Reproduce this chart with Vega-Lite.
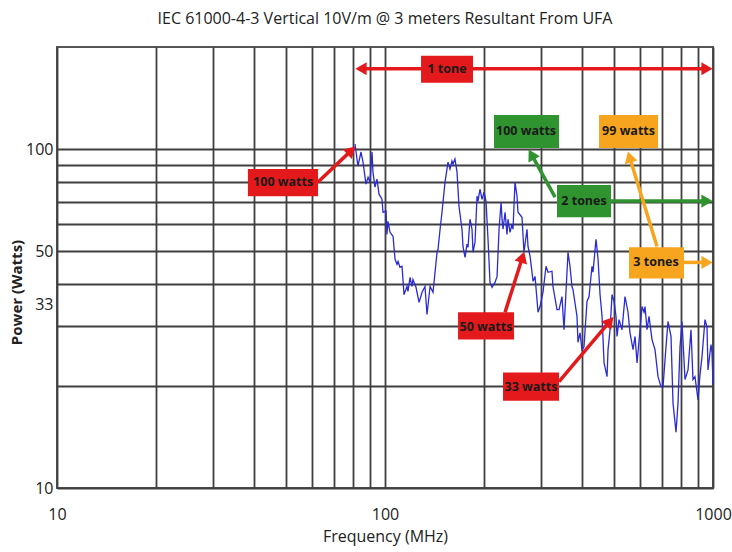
{
  "$schema": "https://vega.github.io/schema/vega-lite/v6.json",
  "autosize": "none",
  "width": 656,
  "height": 441,
  "padding": {"left": 57, "top": 47, "right": 19, "bottom": 64},
  "background": "white",
  "config": {
    "font": "Liberation Sans Narrow, Open Sans, sans-serif",
    "view": {"stroke": "#555555", "strokeWidth": 2}
  },
  "title": {
    "text": "IEC 61000-4-3 Vertical 10V/m @ 3 meters Resultant From UFA",
    "fontSize": 16,
    "fontWeight": "normal",
    "color": "#222222",
    "anchor": "middle",
    "offset": 20,
    "font": "Liberation Sans Narrow, Open Sans, sans-serif"
  },
  "datasets": {
    "curve": [
      {"f": 81.0, "p": 103.5}, {"f": 82.7, "p": 89.1}, {"f": 84.5, "p": 98.0}, {"f": 85.7, "p": 91.5},
      {"f": 87.5, "p": 78.8}, {"f": 88.8, "p": 82.6}, {"f": 90.0, "p": 79.9}, {"f": 91.3, "p": 98.0},
      {"f": 91.9, "p": 85.5}, {"f": 93.2, "p": 77.2}, {"f": 94.5, "p": 81.5}, {"f": 95.9, "p": 73.6},
      {"f": 97.9, "p": 71.1}, {"f": 98.6, "p": 65.1}, {"f": 100.7, "p": 65.6}, {"f": 101.4, "p": 56.0},
      {"f": 102.1, "p": 61.2}, {"f": 103.6, "p": 56.8}, {"f": 105.8, "p": 55.3}, {"f": 107.3, "p": 47.3},
      {"f": 108.8, "p": 45.7}, {"f": 109.6, "p": 46.6}, {"f": 111.1, "p": 44.8}, {"f": 112.7, "p": 45.1},
      {"f": 114.3, "p": 37.2}, {"f": 116.7, "p": 39.3}, {"f": 117.5, "p": 38.0}, {"f": 119.2, "p": 41.8},
      {"f": 120.9, "p": 39.3}, {"f": 121.7, "p": 41.2}, {"f": 124.3, "p": 39.1}, {"f": 127.0, "p": 35.3},
      {"f": 129.7, "p": 37.8}, {"f": 132.4, "p": 39.3}, {"f": 134.3, "p": 32.5}, {"f": 137.2, "p": 39.3},
      {"f": 140.1, "p": 37.8}, {"f": 144.1, "p": 49.6}, {"f": 145.1, "p": 50.6}, {"f": 147.2, "p": 58.0},
      {"f": 149.2, "p": 65.1}, {"f": 152.4, "p": 79.9}, {"f": 154.5, "p": 87.3}, {"f": 155.6, "p": 91.5},
      {"f": 157.8, "p": 87.3}, {"f": 160.0, "p": 92.2}, {"f": 161.2, "p": 90.3}, {"f": 163.4, "p": 93.4},
      {"f": 165.8, "p": 85.5}, {"f": 168.1, "p": 67.8}, {"f": 171.7, "p": 58.0}, {"f": 172.9, "p": 51.6},
      {"f": 175.4, "p": 47.9}, {"f": 177.8, "p": 52.4}, {"f": 179.1, "p": 51.3}, {"f": 181.6, "p": 62.1},
      {"f": 184.2, "p": 58.0}, {"f": 185.5, "p": 49.6}, {"f": 188.1, "p": 53.1}, {"f": 190.8, "p": 72.6},
      {"f": 192.1, "p": 70.2}, {"f": 194.8, "p": 76.1}, {"f": 197.6, "p": 71.1}, {"f": 200.4, "p": 74.6},
      {"f": 203.2, "p": 70.2}, {"f": 206.1, "p": 54.2}, {"f": 209.0, "p": 40.4}, {"f": 212.0, "p": 39.1},
      {"f": 216.5, "p": 40.4}, {"f": 219.6, "p": 42.1}, {"f": 222.7, "p": 58.0}, {"f": 225.9, "p": 69.7},
      {"f": 227.4, "p": 62.1}, {"f": 229.0, "p": 58.0}, {"f": 232.3, "p": 65.1}, {"f": 235.5, "p": 56.0},
      {"f": 237.1, "p": 62.1}, {"f": 240.5, "p": 56.8}, {"f": 243.9, "p": 60.0}, {"f": 245.6, "p": 58.0},
      {"f": 249.1, "p": 79.9}, {"f": 252.6, "p": 72.6}, {"f": 254.4, "p": 65.1}, {"f": 261.6, "p": 62.9},
      {"f": 265.3, "p": 49.6}, {"f": 271.0, "p": 58.0}, {"f": 272.9, "p": 51.6}, {"f": 276.8, "p": 48.3},
      {"f": 280.7, "p": 43.3}, {"f": 282.7, "p": 40.7}, {"f": 286.7, "p": 42.1}, {"f": 292.8, "p": 33.0},
      {"f": 296.9, "p": 34.3}, {"f": 303.2, "p": 37.8}, {"f": 309.7, "p": 45.1}, {"f": 314.1, "p": 43.3},
      {"f": 322.9, "p": 43.6}, {"f": 325.2, "p": 39.3}, {"f": 334.5, "p": 33.6}, {"f": 339.3, "p": 33.6},
      {"f": 346.4, "p": 36.7}, {"f": 351.4, "p": 29.3}, {"f": 361.4, "p": 49.6}, {"f": 366.4, "p": 45.1},
      {"f": 371.6, "p": 39.3}, {"f": 374.3, "p": 38.5}, {"f": 384.9, "p": 32.1}, {"f": 387.6, "p": 26.9},
      {"f": 393.1, "p": 28.7}, {"f": 398.6, "p": 25.6}, {"f": 404.3, "p": 26.1}, {"f": 412.9, "p": 35.5},
      {"f": 418.8, "p": 36.7}, {"f": 427.7, "p": 45.1}, {"f": 430.7, "p": 43.3}, {"f": 439.9, "p": 54.2},
      {"f": 446.2, "p": 47.3}, {"f": 452.5, "p": 37.2}, {"f": 458.9, "p": 32.1}, {"f": 465.4, "p": 23.4},
      {"f": 475.3, "p": 21.3}, {"f": 478.6, "p": 25.6}, {"f": 485.4, "p": 29.3}, {"f": 492.3, "p": 37.2},
      {"f": 499.2, "p": 35.5}, {"f": 506.2, "p": 32.1}, {"f": 509.8, "p": 28.0}, {"f": 517.0, "p": 31.4},
      {"f": 528.0, "p": 29.3}, {"f": 539.2, "p": 36.7}, {"f": 550.7, "p": 33.0}, {"f": 558.5, "p": 28.7},
      {"f": 570.4, "p": 25.6}, {"f": 578.5, "p": 28.0}, {"f": 586.7, "p": 23.4}, {"f": 599.1, "p": 29.3},
      {"f": 607.6, "p": 34.3}, {"f": 616.2, "p": 33.0}, {"f": 620.5, "p": 34.3}, {"f": 629.3, "p": 29.3},
      {"f": 638.2, "p": 32.1}, {"f": 651.7, "p": 27.4}, {"f": 665.6, "p": 25.6}, {"f": 679.8, "p": 21.3},
      {"f": 694.2, "p": 19.9}, {"f": 704.1, "p": 19.9}, {"f": 719.0, "p": 26.1}, {"f": 729.2, "p": 31.0},
      {"f": 744.7, "p": 28.0}, {"f": 755.3, "p": 17.8}, {"f": 771.3, "p": 14.6}, {"f": 782.3, "p": 17.8},
      {"f": 793.3, "p": 26.1}, {"f": 804.5, "p": 31.0}, {"f": 821.6, "p": 20.9}, {"f": 839.1, "p": 22.3},
      {"f": 856.9, "p": 29.3}, {"f": 869.0, "p": 20.9}, {"f": 881.3, "p": 21.3}, {"f": 900.1, "p": 18.2},
      {"f": 912.8, "p": 21.6}, {"f": 925.7, "p": 24.4}, {"f": 945.4, "p": 31.4}, {"f": 958.7, "p": 29.9},
      {"f": 965.5, "p": 22.3}, {"f": 986.0, "p": 26.5}, {"f": 993.1, "p": 25.1}, {"f": 1000, "p": 20.2}
    ],
    "boxes": [
      {"label": "1 tone", "kind": "red", "x1": 128.8, "x2": 185.5, "y1": 188.4, "y2": 156.8, "xc": 154.5, "yc": 172.5},
      {"label": "100 watts", "kind": "red", "x1": 38.2, "x2": 62.5, "y1": 87.3, "y2": 72.6, "xc": 48.9, "yc": 79.9},
      {"label": "100 watts", "kind": "green", "x1": 214.9, "x2": 339.3, "y1": 126.1, "y2": 100.7, "xc": 269.1, "yc": 113.1},
      {"label": "99 watts", "kind": "orange", "x1": 449.3, "x2": 679.8, "y1": 126.1, "y2": 100.7, "xc": 552.6, "yc": 113.1},
      {"label": "2 tones", "kind": "green", "x1": 334.5, "x2": 488.9, "y1": 78.3, "y2": 62.9, "xc": 404.3, "yc": 70.2},
      {"label": "3 tones", "kind": "orange", "x1": 554.5, "x2": 815.8, "y1": 51.3, "y2": 41.5, "xc": 670.3, "yc": 46.3},
      {"label": "50 watts", "kind": "red", "x1": 167.0, "x2": 247.4, "y1": 33.0, "y2": 27.4, "xc": 203.2, "yc": 29.9},
      {"label": "33 watts", "kind": "red", "x1": 229.0, "x2": 339.3, "y1": 21.9, "y2": 18.1, "xc": 278.7, "yc": 19.9}
    ],
    "arrows": [
      {"id": "tone1", "kind": "red", "x1": 84.5, "y1": 172.5, "x2": 958.7, "y2": 172.5},
      {"id": "red100", "kind": "red", "x1": 62.5, "y1": 79.9, "x2": 79.0, "y2": 99.1},
      {"id": "green100", "kind": "green", "x1": 330.0, "y1": 72.1, "x2": 279.5, "y2": 96.4},
      {"id": "green2", "kind": "green", "x1": 488.9, "y1": 70.2, "x2": 958.7, "y2": 70.2},
      {"id": "orange99", "kind": "orange", "x1": 675.1, "y1": 51.6, "x2": 556.5, "y2": 94.8},
      {"id": "orange3", "kind": "orange", "x1": 815.8, "y1": 46.3, "x2": 958.7, "y2": 46.3},
      {"id": "red50", "kind": "red", "x1": 232.3, "y1": 33.0, "x2": 262.6, "y2": 48.0},
      {"id": "red33", "kind": "red", "x1": 339.3, "y1": 20.6, "x2": 484.6, "y2": 31.0}
    ]
  },
  "encoding": {
    "x": {
      "type": "quantitative",
      "scale": {"type": "log", "domain": [10, 1000], "nice": false},
      "axis": {
        "title": "Frequency (MHz)",
        "titleFontSize": 16,
        "titleFontWeight": "normal",
        "titleColor": "#222222",
        "titlePadding": 6,
        "values": [10, 20, 30, 40, 50, 60, 70, 80, 90, 100, 200, 300, 400, 500, 600, 700, 800, 900, 1000],
        "labelExpr": "datum.value == 10 || datum.value == 100 || datum.value == 1000 ? format(datum.value, 'd') : ''",
        "labelFontSize": 16,
        "labelColor": "#222222",
        "labelPadding": 18,
        "labelFlush": false,
        "labelOverlap": false,
        "ticks": false,
        "domain": false,
        "grid": true,
        "gridColor": "#3f3f3f",
        "gridWidth": 1.8,
        "gridOpacity": 1
      }
    },
    "y": {
      "type": "quantitative",
      "scale": {"type": "log", "domain": [10, 200], "nice": false},
      "axis": {
        "title": "Power (Watts)",
        "titleFontSize": 15,
        "titleFontWeight": "bold",
        "titleColor": "#222222",
        "titleX": -33,
        "titleY": 245,
        "values": [10, 20, 30, 33, 40, 50, 60, 70, 80, 90, 100],
        "labelExpr": "datum.value == 10 || datum.value == 33 || datum.value == 50 || datum.value == 100 ? format(datum.value, 'd') : ''",
        "labelFontSize": 16,
        "labelColor": "#222222",
        "labelPadding": 4,
        "labelOverlap": false,
        "labelFlush": false,
        "labelBaseline": {"condition": {"test": "datum.value == 33", "value": "bottom"}, "value": "middle"},
        "ticks": false,
        "domain": false,
        "grid": true,
        "gridColor": "#3f3f3f",
        "gridWidth": 1.8,
        "gridOpacity": {"condition": {"test": "datum.value == 33", "value": 0}, "value": 1}
      }
    }
  },
  "layer": [
    {
      "data": {"name": "curve"},
      "mark": {"type": "line", "color": "#2a2ad6", "strokeWidth": 1.3},
      "encoding": {
        "x": {"field": "f", "type": "quantitative"},
        "y": {"field": "p", "type": "quantitative"}
      }
    },
    {
      "data": {"name": "arrows"},
      "mark": {"type": "rule", "strokeWidth": 3.5},
      "encoding": {
        "x": {"field": "x1", "type": "quantitative"},
        "y": {"field": "y1", "type": "quantitative"},
        "x2": {"field": "x2"},
        "y2": {"field": "y2"},
        "color": {"field": "kind", "type": "nominal", "scale": {"domain": ["red", "green", "orange"], "range": ["#e3191b", "#2f932f", "#f7a51f"]}, "legend": null}
      }
    },
    {
      "data": {"name": "arrows"},
      "transform": [{"filter": "datum.id == 'tone1' || datum.id == 'green2' || datum.id == 'orange3'"}],
      "mark": {"type": "point", "shape": "triangle-up", "filled": true, "size": 170, "opacity": 1, "angle": 90},
      "encoding": {
        "x": {"field": "x2", "type": "quantitative"},
        "y": {"field": "y2", "type": "quantitative"},
        "color": {"field": "kind", "type": "nominal", "legend": null}
      }
    },
    {
      "data": {"name": "arrows"},
      "transform": [{"filter": "datum.id == 'tone1'"}],
      "mark": {"type": "point", "shape": "triangle-up", "filled": true, "size": 170, "opacity": 1, "angle": 270},
      "encoding": {
        "x": {"field": "x1", "type": "quantitative"},
        "y": {"field": "y1", "type": "quantitative"},
        "color": {"field": "kind", "type": "nominal", "legend": null}
      }
    },
    {
      "data": {"name": "arrows"},
      "transform": [{"filter": "datum.id == 'red100'"}],
      "mark": {"type": "point", "shape": "triangle-up", "filled": true, "size": 170, "opacity": 1, "angle": 47},
      "encoding": {
        "x": {"field": "x2", "type": "quantitative"},
        "y": {"field": "y2", "type": "quantitative"},
        "color": {"field": "kind", "type": "nominal", "legend": null}
      }
    },
    {
      "data": {"name": "arrows"},
      "transform": [{"filter": "datum.id == 'green100'"}],
      "mark": {"type": "point", "shape": "triangle-up", "filled": true, "size": 170, "opacity": 1, "angle": 331},
      "encoding": {
        "x": {"field": "x2", "type": "quantitative"},
        "y": {"field": "y2", "type": "quantitative"},
        "color": {"field": "kind", "type": "nominal", "legend": null}
      }
    },
    {
      "data": {"name": "arrows"},
      "transform": [{"filter": "datum.id == 'orange99'"}],
      "mark": {"type": "point", "shape": "triangle-up", "filled": true, "size": 170, "opacity": 1, "angle": 343},
      "encoding": {
        "x": {"field": "x2", "type": "quantitative"},
        "y": {"field": "y2", "type": "quantitative"},
        "color": {"field": "kind", "type": "nominal", "legend": null}
      }
    },
    {
      "data": {"name": "arrows"},
      "transform": [{"filter": "datum.id == 'red50'"}],
      "mark": {"type": "point", "shape": "triangle-up", "filled": true, "size": 170, "opacity": 1, "angle": 18},
      "encoding": {
        "x": {"field": "x2", "type": "quantitative"},
        "y": {"field": "y2", "type": "quantitative"},
        "color": {"field": "kind", "type": "nominal", "legend": null}
      }
    },
    {
      "data": {"name": "arrows"},
      "transform": [{"filter": "datum.id == 'red33'"}],
      "mark": {"type": "point", "shape": "triangle-up", "filled": true, "size": 170, "opacity": 1, "angle": 40},
      "encoding": {
        "x": {"field": "x2", "type": "quantitative"},
        "y": {"field": "y2", "type": "quantitative"},
        "color": {"field": "kind", "type": "nominal", "legend": null}
      }
    },
    {
      "data": {"name": "boxes"},
      "mark": {"type": "rect", "opacity": 1},
      "encoding": {
        "x": {"field": "x1", "type": "quantitative"},
        "x2": {"field": "x2"},
        "y": {"field": "y1", "type": "quantitative"},
        "y2": {"field": "y2"},
        "color": {"field": "kind", "type": "nominal", "scale": {"domain": ["red", "green", "orange"], "range": ["#e3191b", "#2f932f", "#f7a51f"]}, "legend": null}
      }
    },
    {
      "data": {"name": "boxes"},
      "mark": {"type": "text", "fontSize": 12.5, "fontWeight": "bold", "color": "#1a1a1a", "align": "center", "baseline": "middle", "font": "Liberation Sans Narrow, Open Sans, sans-serif"},
      "encoding": {
        "x": {"field": "xc", "type": "quantitative"},
        "y": {"field": "yc", "type": "quantitative"},
        "text": {"field": "label", "type": "nominal"}
      }
    }
  ]
}
